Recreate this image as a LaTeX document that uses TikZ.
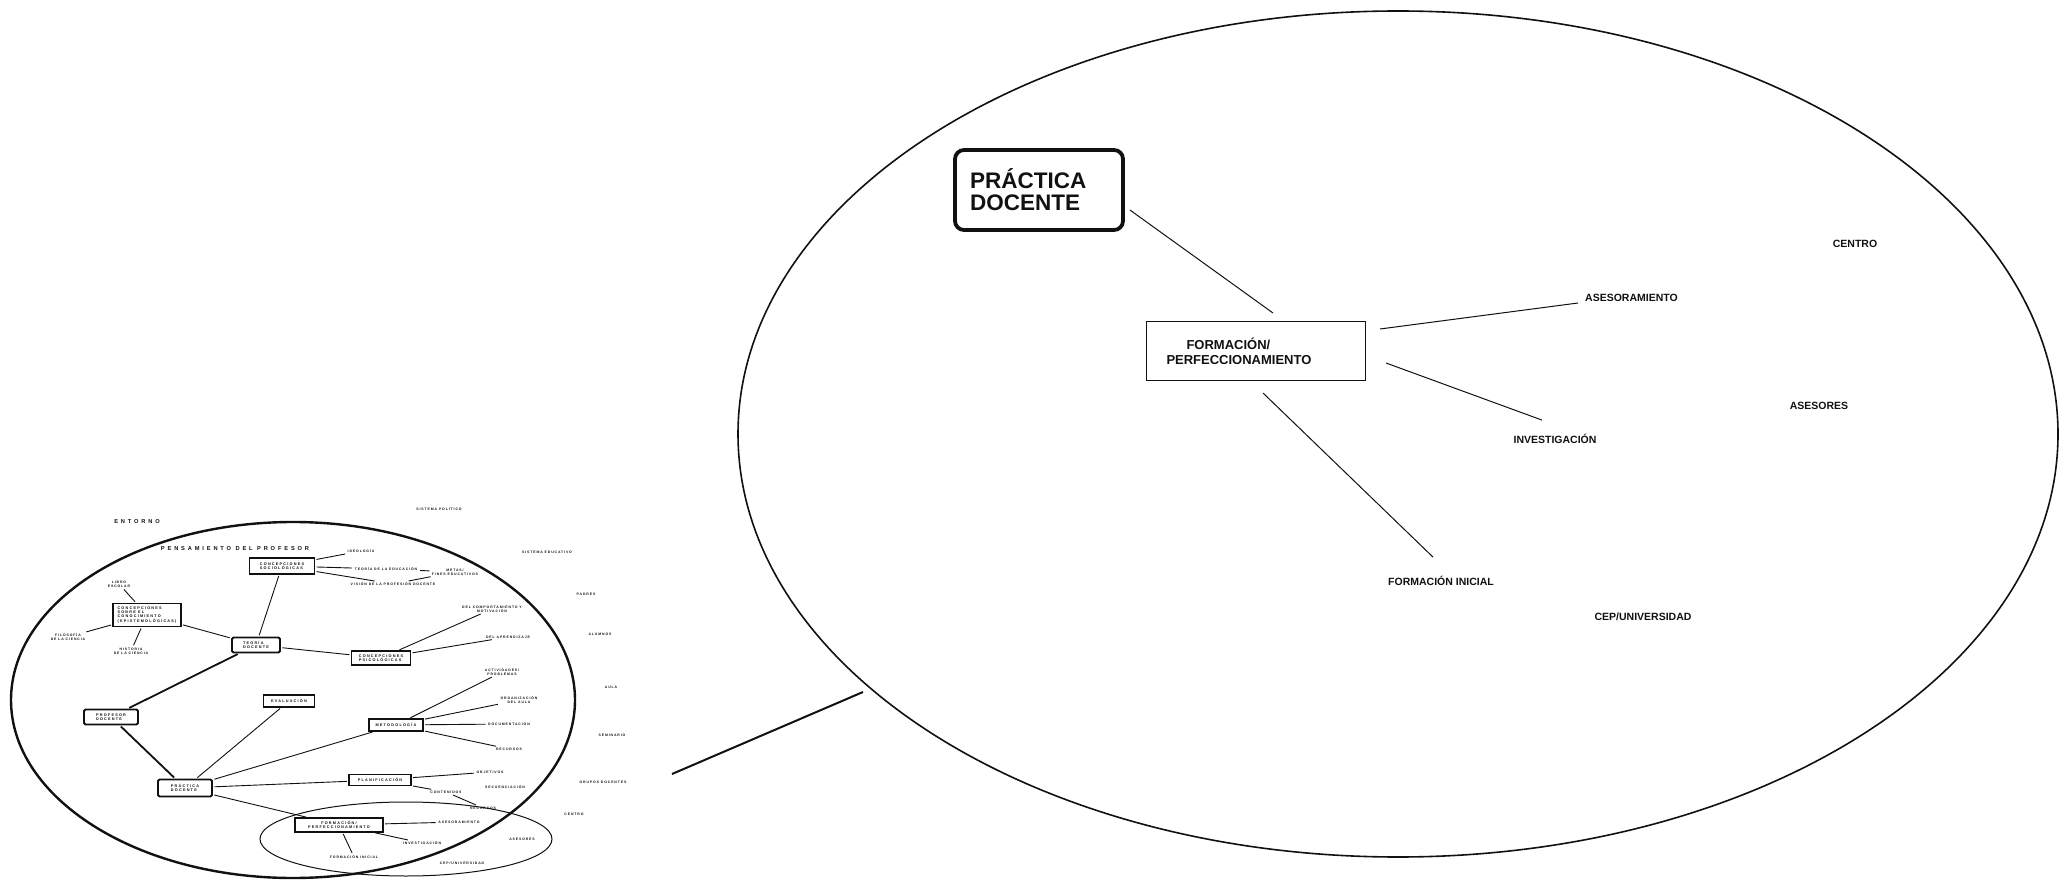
\documentclass[tikz,border=0pt]{standalone}
\usepackage{fontspec}
\setmainfont{Liberation Sans}
\newfontfamily\maptitlefont[LetterSpace=50]{Liberation Sans}
\newfontfamily\mapboxfont[LetterSpace=32]{Liberation Sans}
\newfontfamily\maplabelfont[LetterSpace=26]{Liberation Sans}
\usepackage{tikz}
\definecolor{inkblack}{HTML}{111111}
\tikzset{
  maptitle/.style={
    inner sep=1pt,
    text=inkblack,
    font=\maptitlefont\bfseries\fontsize{5.7}{6.2}\selectfont
  },
  mapbox/.style={
    draw=inkblack,
    line width=1.1pt,
    inner sep=1.5pt,
    align=left,
    text=inkblack,
    font=\mapboxfont\bfseries\fontsize{3.8}{4.1}\selectfont
  },
  mainmapbox/.style={
    mapbox,
    rounded corners=1.5pt,
    line width=1.8pt
  },
  maplabel/.style={
    inner sep=1pt,
    align=center,
    text=inkblack,
    font=\maplabelfont\bfseries\fontsize{3.45}{3.9}\selectfont
  },
  maplink/.style={
    draw=inkblack,
    line width=0.9pt,
    shorten <=1.5pt,
    shorten >=1.5pt
  },
  mainmaplink/.style={
    maplink,
    line width=1.8pt
  },
  bigbox/.style={
    draw=inkblack,
    line width=1pt,
    align=left,
    text=inkblack,
    font=\bfseries\fontsize{13}{15}\selectfont
  },
  bigmainbox/.style={
    draw=inkblack,
    line width=3.8pt,
    rounded corners=9pt,
    align=left,
    text=inkblack,
    font=\bfseries\fontsize{22.5}{22}\selectfont
  },
  biglabel/.style={
    inner sep=2pt,
    text=inkblack,
    font=\bfseries\fontsize{10.5}{12}\selectfont
  },
  biglink/.style={
    draw=inkblack,
    line width=1pt
  }
}

\begin{document}
\begin{tikzpicture}[x=1pt,y=-1pt]
  \useasboundingbox (0,0) rectangle (2067,882);

  \draw[inkblack, line width=2.4pt] (293,700) ellipse [x radius=282, y radius=178];
  \draw[inkblack, line width=1pt] (406,839) ellipse [x radius=146, y radius=37];
  \draw[inkblack, line width=1.6pt] (1398,434) ellipse [x radius=660, y radius=423];

  \node[maptitle] (entorno) at (137,522) {ENTORNO};
  \node[maptitle] (pensamiento) at (235,549) {PENSAMIENTO DEL PROFESOR};

  \node[mapbox, minimum width=65, minimum height=16] (csoc) at (282,566) {CONCEPCIONES\\SOCIOLÓGICAS};
  \node[mapbox, minimum width=68, minimum height=23] (cepis) at (147,615) {CONCEPCIONES\\SOBRE EL\\CONOCIMIENTO\\(EPISTEMOLÓGICAS)};
  \node[mainmapbox, minimum width=48, minimum height=15] (teoria) at (256,645) {TEORÍA\\DOCENTE};
  \node[mapbox, minimum width=59, minimum height=14] (cpsico) at (381,658) {CONCEPCIONES\\PSICOLÓGICAS};
  \node[mainmapbox, minimum width=54, minimum height=15] (profesor) at (111,717) {PROFESOR\\DOCENTE};
  \node[mapbox, minimum width=51, minimum height=12] (evaluacion) at (289,701) {EVALUACIÓN};
  \node[mainmapbox, minimum width=54, minimum height=17] (practica) at (185,788) {PRÁCTICA\\DOCENTE};
  \node[mapbox, minimum width=54, minimum height=12] (metodologia) at (396,725) {METODOLOGÍA};
  \node[mapbox, minimum width=62, minimum height=11] (planificacion) at (380,780) {PLANIFICACIÓN};
  \node[mapbox, align=center, minimum width=88, minimum height=14] (formacion) at (339,825) {FORMACIÓN/\\PERFECCIONAMIENTO};

  \node[maplabel] (libro) at (119,584) {LIBRO\\ESCOLAR};
  \node[maplabel] (filosofia) at (68,637) {FILOSOFÍA\\DE LA CIENCIA};
  \node[maplabel] (historia) at (131,651) {HISTORIA\\DE LA CIENCIA};
  \node[maplabel] (ideologia) at (361,551) {IDEOLOGÍA};
  \node[maplabel] (teoedu) at (386,569) {TEORÍA DE LA EDUCACIÓN};
  \node[maplabel] (metas) at (455,572) {METAS/\\FINES EDUCATIVOS};
  \node[maplabel] (vision) at (393,584) {VISIÓN DE LA PROFESIÓN DOCENTE};
  \node[maplabel] (sispol) at (439,509) {SISTEMA POLÍTICO};
  \node[maplabel] (siseduc) at (547,552) {SISTEMA EDUCATIVO};
  \node[maplabel] (padres) at (586,594) {PADRES};
  \node[maplabel] (alumnos) at (600,634) {ALUMNOS};
  \node[maplabel] (comport) at (492,609) {DEL COMPORTAMIENTO Y\\MOTIVACIÓN};
  \node[maplabel] (aprend) at (508,637) {DEL APRENDIZAJE};
  \node[maplabel] (activ) at (502,672) {ACTIVIDADES/\\PROBLEMAS};
  \node[maplabel] (organiz) at (519,700) {ORGANIZACIÓN\\DEL AULA};
  \node[maplabel] (document) at (509,724) {DOCUMENTACIÓN};
  \node[maplabel] (recursos) at (509,749) {RECURSOS};
  \node[maplabel] (objetivos) at (490,772) {OBJETIVOS};
  \node[maplabel] (secuenc) at (505,787) {SECUENCIACIÓN};
  \node[maplabel] (contenidos) at (446,792) {CONTENIDOS};
  \node[maplabel] (recursosb) at (483,808) {RECURSOS};
  \node[maplabel] (asesoram) at (459,822) {ASESORAMIENTO};
  \node[maplabel] (investig) at (422,843) {INVESTIGACIÓN};
  \node[maplabel] (finicial) at (354,857) {FORMACIÓN INICIAL};
  \node[maplabel] (asesores) at (522,839) {ASESORES};
  \node[maplabel] (cep) at (462,863) {CEP/UNIVERSIDAD};
  \node[maplabel] (centro) at (574,814) {CENTRO};
  \node[maplabel] (grupos) at (603,782) {GRUPOS DOCENTES};
  \node[maplabel] (seminario) at (612,735) {SEMINARIO};
  \node[maplabel] (aula) at (611,687) {AULA};

  \draw[maplink] (libro) -- (cepis);
  \draw[maplink] (filosofia) -- (cepis);
  \draw[maplink] (historia) -- (cepis);
  \draw[maplink] (cepis) -- (teoria);
  \draw[maplink] (csoc) -- (teoria);
  \draw[maplink] (teoria) -- (cpsico);
  \draw[mainmaplink] (teoria) -- (profesor);
  \draw[maplink] (csoc) -- (ideologia);
  \draw[maplink] (csoc) -- (teoedu);
  \draw[maplink] (csoc) -- (vision);
  \draw[maplink] (teoedu) -- (metas);
  \draw[maplink] (vision) -- (metas);
  \draw[maplink] (cpsico) -- (comport);
  \draw[maplink] (cpsico) -- (aprend);
  \draw[mainmaplink] (profesor) -- (practica);
  \draw[maplink] (practica) -- (evaluacion);
  \draw[maplink] (practica) -- (metodologia);
  \draw[maplink] (practica) -- (planificacion);
  \draw[maplink] (practica) -- (formacion);
  \draw[maplink] (metodologia) -- (activ);
  \draw[maplink] (metodologia) -- (organiz);
  \draw[maplink] (metodologia) -- (document);
  \draw[maplink] (metodologia) -- (recursos);
  \draw[maplink] (planificacion) -- (objetivos);
  \draw[maplink] (planificacion) -- (contenidos);
  \draw[maplink] (contenidos) -- (recursosb);
  \draw[maplink] (formacion) -- (asesoram);
  \draw[maplink] (formacion) -- (investig);
  \draw[maplink] (formacion) -- (finicial);

  \coordinate (zoomfrom) at (672,774);
  \coordinate (zoomto) at (863,692);
  \draw[inkblack, line width=2pt] (zoomfrom) -- (zoomto);

  \node[bigmainbox, text width=138, inner xsep=15, minimum height=80] (bigprac) at (1039,190) {PRÁCTICA\\DOCENTE};
  \node[bigbox, text width=179, inner xsep=20, minimum height=59] (bigform) at (1256,351) {\hspace*{20pt}FORMACIÓN/\\PERFECCIONAMIENTO};
  \node[biglabel, anchor=west] (bigases) at (1583,298) {ASESORAMIENTO};
  \node[biglabel] (biginv) at (1555,439) {INVESTIGACIÓN};
  \node[biglabel] (bigfini) at (1441,581) {FORMACIÓN INICIAL};
  \node[biglabel] (bigcep) at (1643,617) {CEP/UNIVERSIDAD};
  \node[biglabel] (bigasesores) at (1819,406) {ASESORES};
  \node[biglabel] (bigcentro) at (1855,244) {CENTRO};

  \draw[biglink] ([shift={(5,20)}]bigprac.east) -- ([shift={(17,-8)}]bigform.north);
  \draw[biglink] ([shift={(14,-22)}]bigform.east) -- ([shift={(-5,5)}]bigases.west);
  \draw[biglink] ([shift={(20,12)}]bigform.east) -- ([shift={(-13,-12)}]biginv.north);
  \draw[biglink] ([shift={(7,12)}]bigform.south) -- ([shift={(-8,-17)}]bigfini.north);
\end{tikzpicture}
\end{document}
